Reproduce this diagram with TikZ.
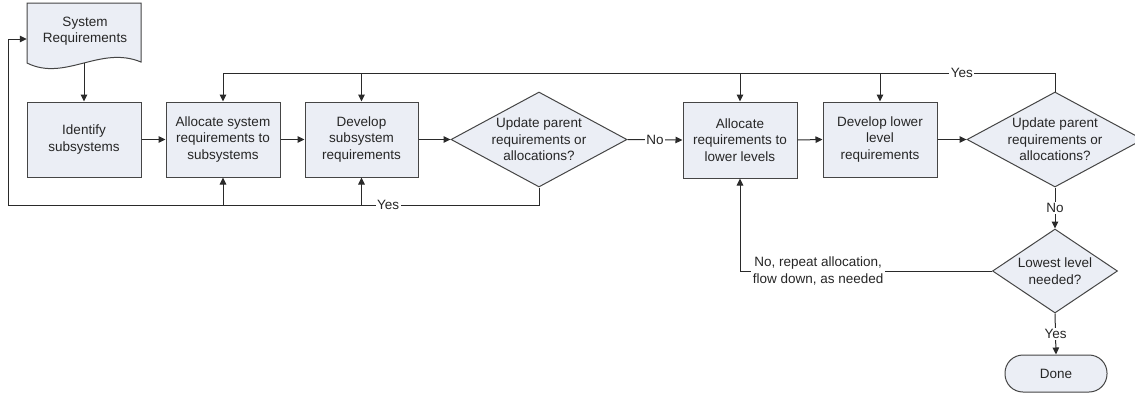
\documentclass[tikz,border=0pt]{standalone}
\usepackage{fontspec}
\setmainfont{Liberation Sans}
\usetikzlibrary{arrows.meta,shapes.geometric,calc}
\definecolor{boxfill}{HTML}{EBEEF5}
\definecolor{boxline}{HTML}{454545}
\definecolor{conline}{HTML}{2A2A2A}
\begin{document}
\begin{tikzpicture}[x=1pt,y=-1pt,
  every node/.style={font=\fontsize{13.5}{16.5}\selectfont, text=black!85},
  proc/.style={draw=boxline, fill=boxfill, line width=1pt, minimum width=114pt, minimum height=75pt, inner sep=0pt, align=center},
  dia/.style={diamond, draw=boxline, fill=boxfill, line width=1pt, inner sep=0pt},
  txt/.style={align=center, inner sep=0pt},
  lbl/.style={fill=white, inner sep=1.5pt, align=center},
  con/.style={draw=conline, line width=1pt},
  arr/.style={con, -{Triangle[length=7pt,width=6.5pt]}}
]
\clip (0,0) rectangle (1135,394);
\fill[white] (0,0) rectangle (1135,394);

% System requirements (document shape)
\node[txt, minimum width=114pt, minimum height=60pt] (sr) at (84,33) {};
\fill[boxfill] (27,3) -- (141,3) -- (141,62) .. controls (100,45) and (65,82) .. (27,63) -- cycle;
\draw[boxline, line width=1pt] (27,3) -- (141,3) -- (141,62) .. controls (100,45) and (65,82) .. (27,63) -- cycle;
\node[txt] at (85,31) {System\\Requirements};
\coordinate (srin) at ([yshift=-6pt]sr.west);

\node[proc] (id) at (84,139.5) {Identify\\subsystems};
\node[proc] (as) at (223,139.5) {Allocate system\\requirements to\\subsystems};
\node[proc, minimum width=113pt] (ds) at (361.5,139.5) {Develop\\subsystem\\requirements};
\node[dia, minimum width=176pt, minimum height=95pt] (d1) at (539,139.5) {};
\node[txt] at (d1) {Update parent\\requirements or\\allocations?};
\node[proc, minimum height=76pt] (al) at (740,140) {Allocate\\requirements to\\lower levels};
\node[proc] (dl) at (880,139.5) {Develop lower\\level\\requirements};
\node[dia, minimum width=176pt, minimum height=95pt] (d2) at (1055,139.5) {};
\node[txt] at (d2) {Update parent\\requirements or\\allocations?};
\node[dia, minimum width=125pt, minimum height=84pt] (d3) at (1055,271) {};
\node[txt] at (d3) {Lowest level\\needed?};
\node[draw=boxline, fill=boxfill, line width=1pt, rounded corners=18pt, minimum width=102pt, minimum height=37pt, inner sep=0pt] (done) at (1056,373.5) {Done};

\coordinate (top) at (0,73);
\coordinate (bot) at (0,205);
\coordinate (lx) at (8,0);

% main flow
\draw[arr] (sr.south) -- (id.north);
\draw[arr] (id.east) -- (as.west);
\draw[arr] (as.east) -- (ds.west);
\draw[arr] (ds.east) -- (d1.west);
\draw[arr] (d1.east) -- node[lbl] {No} (al.west);
\draw[arr] (al.east) -- (dl.west);
\draw[arr] (dl.east) -- (d2.west);

% top Yes loop
\draw[con] (d2.north) -- (d2.north |- top) -- node[lbl, pos=0.112] {Yes} (as.north |- top);
\draw[arr] (as.north |- top) -- (as.north);
\draw[arr] (ds.north |- top) -- (ds.north);
\draw[arr] (al.north |- top) -- (al.north);
\draw[arr] (dl.north |- top) -- (dl.north);

% bottom Yes loop
\draw[con] (d1.south) -- (d1.south |- bot) -- node[lbl, pos=0.284] {Yes} (lx |- bot);
\draw[arr] (lx |- bot) -- (lx |- srin) -- (srin);
\draw[arr] (as.south |- bot) -- (as.south);
\draw[arr] (ds.south |- bot) -- (ds.south);

% lower branch
\draw[arr] (d2.south) -- node[lbl] {No} (d3.north);
\draw[arr] (d3.west) -- node[lbl, pos=0.69] {No, repeat allocation,\\flow down, as needed} (al.south |- d3.west) -- (al.south);
\draw[arr] (d3.south) -- node[lbl] {Yes} (done.north);
\end{tikzpicture}
\end{document}
